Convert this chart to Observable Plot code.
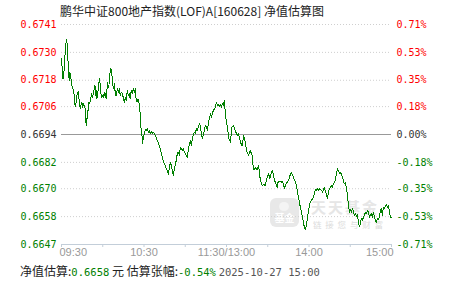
<!DOCTYPE html>
<html><head><meta charset="utf-8">
<script src="https://cdn.jsdelivr.net/npm/d3@7"></script>
<script src="https://cdn.jsdelivr.net/npm/@observablehq/plot@0.6"></script>
<style>
html,body{margin:0;padding:0;background:#fff;}
#wrap{position:relative;width:451px;height:281px;overflow:hidden;font-family:"Noto Sans CJK SC",sans-serif;}
#chart{position:absolute;left:0;top:0;z-index:2;}
#title{position:absolute;left:0;top:3px;width:384px;text-align:center;font-size:12px;line-height:16px;color:#222;z-index:3;white-space:nowrap;}
#foot{position:absolute;left:20px;top:263px;font-size:12px;line-height:16px;color:#222;white-space:nowrap;z-index:3;}
.num{font-family:"DejaVu Sans Mono",monospace;font-size:10.5px;}
.g{color:#008000}
.d{color:#555}
.wm{position:absolute;z-index:1;}
#wmbox{left:270px;top:198px;width:29px;height:29px;background:#e8e8e8;border-radius:6px;}
#wmbox .c{position:absolute;left:9px;top:4px;width:10px;height:9px;border-radius:50%;background:#f4f4f4;}
#wmbox .t{position:absolute;left:0;width:29px;top:14px;text-align:center;font-size:10px;line-height:12px;font-weight:bold;color:#fff;}
#wmt{left:311px;top:199px;font-size:15px;line-height:15px;font-weight:bold;color:#e6e6e6;letter-spacing:2px;}
#wms{left:313px;top:220px;font-size:8.5px;line-height:9px;color:#dcdcdc;letter-spacing:3.8px;}
</style></head>
<body>
<div id="wrap">
  <div id="title">鹏华中证800地产指数(LOF)A[160628] 净值估算图</div>
  <div class="wm" id="wmbox"><div class="c"></div><div class="t">基金</div></div>
  <div class="wm" id="wmt">天天基金</div>
  <div class="wm" id="wms">链接您与财富</div>
  <div id="chart"></div>
  <div id="foot">净值估算:<span class="num g">0.6658</span> 元 估算张幅:<span class="num g">-0.54%</span> <span class="num d">2025-10-27 15:00</span></div>
</div>
<script>
// previous close (base) and axis ticks
const base = 0.6694;
const pctTicks = [0.71, 0.53, 0.35, 0.18, 0, -0.18, -0.35, -0.53, -0.71];
const leftLabels = ["0.6741","0.6730","0.6718","0.6706","0.6694","0.6682","0.6670","0.6658","0.6647"];
const rightLabels = ["0.71%","0.53%","0.35%","0.18%","0.00%","-0.18%","-0.35%","-0.53%","-0.71%"];
const timeTicks = [0, 30, 60, 90, 120, 150, 180, 210, 240];
const timeLabelAt = [0, 60, 120, 180, 240];
const timeLabels = ["09:30","10:30","11:30/13:00","14:00","15:00"];

// trading minutes since 09:30 and estimated NAV
const minutes = [
  0,0.5,1,1.5,2,2.5,3.2,3.7,4.1,4.6,
  5.1,5.6,6.1,6.6,7.1,7.5,8.3,9,9.5,10,
  10.7,11.4,12.2,12.6,13.1,13.6,14.1,14.8,15.3,16,
  16.5,17,17.5,18,18.5,19,19.4,19.9,20.4,20.9,
  21.4,21.9,22.4,22.8,23.3,23.8,24.3,24.8,25.3,25.7,
  26.2,26.7,27.2,27.7,28.2,28.7,29.1,29.9,30.6,31.1,
  31.6,32,32.5,33,33.5,34,34.5,35,35.4,35.9,
  36.4,36.9,37.4,37.9,38.4,38.8,39.3,
  39.8,40.6,41.3,42,42.7,43.5,44.2,44.9,45.7,46.4,
  47.1,47.8,48.6,49.3,50,50.7,51.5,52.2,52.9,53.7,
  54.1,54.9,55.6,56.3,57.1,57.5,58,58.5,59,59.5,
  60.2,60.9,61.7,62.4,63.1,63.9,64.6,65.3,66,66.8,
  67.5,68.2,69,69.7,70.4,71.1,71.9,72.6,73.3,74,
  74.8,75.5,76.2,77,77.7,78.4,79.1,79.9,80.6,
  81.3,82.1,82.8,83.5,84.2,85,85.7,86.4,87.2,87.9,
  88.6,89.3,90.1,90.8,91.5,92.2,93,93.7,94.4,95.2,
  95.9,96.6,97.3,98.1,98.8,99.5,100.3,101,101.7,102.4,
  103.2,103.9,104.6,105.3,106.1,106.8,107.5,108.3,109,109.7,
  110.4,111.2,111.9,112.6,113.4,114.1,114.8,115.5,116.3,117,
  117.7,118.4,118.9,119.4,120.1,
  121.8,122.8,124,125.2,126.4,127.7,128.8,130.1,131.3,132.5,
  133.2,134.9,136.1,137.3,138.6,139.3,140,141,142.2,143.4,
  144.1,144.8,145.9,147,148.3,149,149.7,150.7,151.4,152.1,
  152.8,153.6,154.3,155,156,156.8,157.5,158.4,159.9,160.8,
  161.6,162.3,
  163.3,164.2,165.2,166.2,167.2,168.1,169.1,170.1,170.8,171.5,
  172.3,173,173.7,174.5,175.2,175.9,176.6,177.4,178.1,178.8,
  179.5,180.3,181,181.7,182.5,183.2,183.9,184.6,185.4,186.1,
  187,188,189,190,191,191.9,192.6,193.4,194.1,194.8,
  195.6,196.3,197,197.7,198.5,199.2,199.9,200.7,201.4,202.1,
  202.8,203.6,204.3,205,205.7,206.5,207.2,207.9,208.7,209.4,
  210.1,210.8,211.6,212.3,213,213.7,214.5,215.2,215.9,216.7,
  217.4,218.1,218.8,219.6,220.3,221,221.7,222.5,223.2,223.9,
  224.7,225.4,226.1,226.8,227.6,228.3,229,229.7,230.5,231.2,
  231.9,232.7,233.4,234.1,234.9,235.6,236.3,237,237.8,238.5,
  239.2,240
];
const navs = [
  .67267,.67224,.67181,.67181,.67231,.67281,.67332,.67349,.67332,.67274,
  .67216,.67173,.67209,.67187,.67173,.67152,.67137,.67123,.67079,.67061,
  .67079,.67116,.67127,.67101,.67079,.67051,.67065,.67079,.67058,.67075,
  .67058,.67065,.67015,.66979,.67012,.67008,.67058,.67079,.67072,.67087,
  .67101,.67116,.67101,.67108,.67116,.67137,.67152,.67130,.67094,.67130,
  .67101,.67137,.67166,.67181,.67152,.67116,.67101,.67108,.67101,.67123,
  .67108,.67116,.67094,.67130,.67166,.67144,.67152,.67187,.67216,.67224,
  .67209,.67187,.67152,.67137,.67159,.67137,.67108,
  .67108,.67137,.67123,.67137,.67108,.67123,.67116,.67101,.67079,.67101,
  .67087,.67130,.67108,.67116,.67094,.67130,.67116,.67137,.67123,.67137,
  .67101,.67079,.67094,.67079,.67036,.66993,.66957,.66936,.66900,.66928,
  .66943,.66960,.66957,.66965,.66950,.66957,.66943,.66954,.66946,.66950,
  .66943,.66936,.66926,.66914,.66907,.66892,.66878,.66857,.66842,.66828,
  .66813,.66806,.66792,.66782,.66767,.66792,.66820,.66806,.66785,
  .66763,.66792,.66813,.66828,.66857,.66864,.66849,.66885,.66878,.66871,
  .66878,.66864,.66857,.66849,.66842,.66871,.66900,.66914,.66892,.66921,
  .66943,.66950,.66943,.66965,.66957,.66972,.66986,.66979,.66943,.66921,
  .66943,.66957,.66979,.66972,.66957,.66986,.67008,.67029,.67015,.67029,
  .67044,.67051,.67058,.67079,.67065,.67068,.67062,.67068,.67058,.67072,
  .67065,.67087,.67051,.67015,.66993,
  .66921,.66907,.66972,.66979,.66957,.66936,.66943,.66907,.66892,.66936,
  .66921,.66864,.66849,.66871,.66849,.66806,.66785,.66799,.66785,.66806,
  .66763,.66741,.66720,.66724,.66720,.66741,.66756,.66770,.66749,.66763,
  .66777,.66785,.66756,.66741,.66727,.66712,.66734,.66738,.66734,.66738,
  .66720,.66706,
  .66727,.66734,.66744,.66763,.66777,.66763,.66749,.66734,.66720,.66698,
  .66669,.66648,.66626,.66604,.66583,.66561,.66540,.66528,.66547,.66576,
  .66604,.66633,.66648,.66655,.66662,.66669,.66686,.66701,.66698,.66706,
  .66698,.66706,.66698,.66691,.66710,.66698,.66684,.66662,.66691,.66706,
  .66712,.66720,.66710,.66727,.66734,.66741,.66770,.66792,.66782,.66773,
  .66777,.66767,.66756,.66741,.66727,.66734,.66706,.66684,.66633,.66604,
  .66615,.66604,.66619,.66612,.66590,.66600,.66586,.66595,.66561,.66542,
  .66557,.66576,.66569,.66583,.66590,.66604,.66598,.66612,.66604,.66583,
  .66595,.66598,.66583,.66604,.66583,.66569,.66561,.66576,.66572,.66586,
  .66612,.66619,.66590,.66626,.66619,.66633,.66638,.66626,.66633,.66604,
  .66583,.66580
];

const data = minutes.map((m, i) => ({m, v: navs[i]}));
const grid = pctTicks.map((p, i) => ({p, v: base * (1 + p / 100), left: leftLabels[i], right: rightLabels[i]}));
const colorOf = p => p > 0 ? "#ff0000" : p < 0 ? "#008000" : "#333333";
const yTop = base * (1 + pctTicks[0] / 100);
const yBot = base * (1 + pctTicks[pctTicks.length - 1] / 100);
const tl = timeLabelAt.map((m, i) => ({m, t: timeLabels[i]}));

const chart = Plot.plot({
  width: 451, height: 281,
  marginTop: 24, marginBottom: 37, marginLeft: 61, marginRight: 60,
  x: {domain: [0, 240]},
  y: {domain: [yBot, yTop], axis: null},
  style: {background: "transparent", overflow: "visible"},
  marks: [
    Plot.ruleY(grid.filter(d => d.p !== 0 && d.p !== pctTicks[pctTicks.length - 1]), {y: "v", stroke: "#cfcfcf", strokeDasharray: "1,2"}),
    Plot.ruleY([base], {stroke: "#999999", strokeWidth: 1.2}),
    Plot.ruleY([yBot], {stroke: "#c3ced9"}),
    Plot.axisX({ticks: timeTicks, tickSize: 3, stroke: "#c3ced9", tickFormat: () => "", label: null}),
    Plot.text(tl.slice(0, 1), {x: "m", text: "t", frameAnchor: "bottom", dy: 11, textAnchor: "start", dx: -2, fill: "#999", fontSize: 11, fontFamily: "Liberation Sans, Arial, sans-serif"}),
    Plot.text(tl.slice(1, -1), {x: "m", text: "t", frameAnchor: "bottom", dy: 11, textAnchor: "middle", fill: "#999", fontSize: 11, fontFamily: "Liberation Sans, Arial, sans-serif"}),
    Plot.text(tl.slice(-1), {x: "m", text: "t", frameAnchor: "bottom", dy: 11, textAnchor: "end", dx: 2, fill: "#999", fontSize: 11, fontFamily: "Liberation Sans, Arial, sans-serif"}),
    Plot.text(grid, {y: "v", text: "left", frameAnchor: "left", textAnchor: "end", dx: -5, fill: d => colorOf(d.p), fontSize: 10, fontFamily: "DejaVu Sans Mono, monospace"}),
    Plot.text(grid, {y: "v", text: "right", frameAnchor: "right", textAnchor: "start", dx: 5, fill: d => colorOf(d.p), fontSize: 10, fontFamily: "DejaVu Sans Mono, monospace"}),
    Plot.line(data, {x: "m", y: "v", stroke: "#008000", strokeWidth: 1, shapeRendering: "crispEdges"})
  ]
});
document.getElementById("chart").appendChild(chart);
</script>
</body></html>
